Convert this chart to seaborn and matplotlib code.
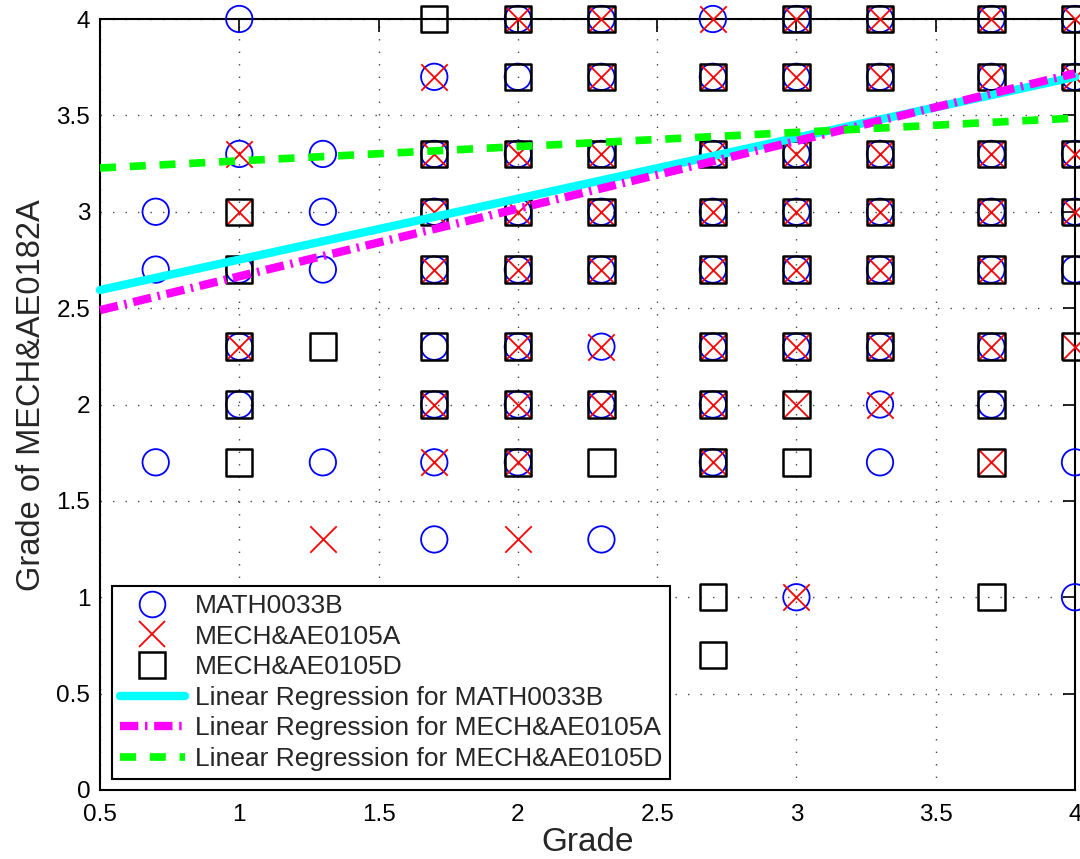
import numpy as np
import pandas as pd
import matplotlib
matplotlib.use("Agg")
import matplotlib.pyplot as plt
from matplotlib.lines import Line2D
import seaborn as sns

# ---------------- data ----------------
math_x = [0.7, 0.7, 0.7,
          1, 1, 1, 1, 1,
          1.3, 1.3, 1.3, 1.3,
          1.7, 1.7, 1.7, 1.7, 1.7, 1.7, 1.7, 1.7,
          2, 2, 2, 2, 2, 2, 2, 2,
          2.3, 2.3, 2.3, 2.3, 2.3, 2.3, 2.3, 2.3,
          2.7, 2.7, 2.7, 2.7, 2.7, 2.7, 2.7, 2.7,
          3, 3, 3, 3, 3, 3, 3,
          3.3, 3.3, 3.3, 3.3, 3.3, 3.3, 3.3, 3.3,
          3.7, 3.7, 3.7, 3.7, 3.7, 3.7, 3.7,
          4, 4, 4, 4, 4, 4, 4]
math_y = [3, 2.7, 1.7,
          4, 3.3, 2.7, 2.3, 2,
          3.3, 3, 2.7, 1.7,
          3.7, 3.3, 3, 2.7, 2.3, 2, 1.7, 1.3,
          4, 3.7, 3.3, 3, 2.7, 2.3, 2, 1.7,
          4, 3.7, 3.3, 3, 2.7, 2.3, 2, 1.3,
          4, 3.7, 3.3, 3, 2.7, 2.3, 2, 1.7,
          4, 3.7, 3.3, 3, 2.7, 2.3, 1,
          4, 3.7, 3.3, 3, 2.7, 2.3, 2, 1.7,
          4, 3.7, 3.3, 3, 2.7, 2.3, 2,
          4, 3.7, 3.3, 3, 2.7, 1.7, 1]

mecha_x = [1, 1, 1,
           1.3,
           1.7, 1.7, 1.7, 1.7, 1.7, 1.7,
           2, 2, 2, 2, 2, 2, 2, 2,
           2.3, 2.3, 2.3, 2.3, 2.3, 2.3, 2.3,
           2.7, 2.7, 2.7, 2.7, 2.7, 2.7, 2.7, 2.7,
           3, 3, 3, 3, 3, 3, 3, 3,
           3.3, 3.3, 3.3, 3.3, 3.3, 3.3, 3.3,
           3.7, 3.7, 3.7, 3.7, 3.7, 3.7, 3.7,
           4, 4, 4, 4, 4]
mecha_y = [3.3, 3, 2.3,
           1.3,
           3.7, 3.3, 3, 2.7, 2, 1.7,
           4, 3.3, 3, 2.7, 2.3, 2, 1.7, 1.3,
           4, 3.7, 3.3, 3, 2.7, 2.3, 2,
           4, 3.7, 3.3, 3, 2.7, 2.3, 2, 1.7,
           4, 3.7, 3.3, 3, 2.7, 2.3, 2, 1,
           4, 3.7, 3.3, 3, 2.7, 2.3, 2,
           4, 3.7, 3.3, 3, 2.7, 2.3, 1.7,
           4, 3.7, 3.3, 3, 2.3]

mechd_x = [1, 1, 1, 1, 1,
           1.3,
           1.7, 1.7, 1.7, 1.7, 1.7, 1.7,
           2, 2, 2, 2, 2, 2, 2, 2,
           2.3, 2.3, 2.3, 2.3, 2.3, 2.3, 2.3,
           2.7, 2.7, 2.7, 2.7, 2.7, 2.7, 2.7, 2.7, 2.7,
           3, 3, 3, 3, 3, 3, 3, 3,
           3.3, 3.3, 3.3, 3.3, 3.3, 3.3,
           3.7, 3.7, 3.7, 3.7, 3.7, 3.7, 3.7, 3.7, 3.7,
           4, 4, 4, 4, 4, 4]
mechd_y = [3, 2.7, 2.3, 2, 1.7,
           2.3,
           4, 3.3, 3, 2.7, 2.3, 2,
           4, 3.7, 3.3, 3, 2.7, 2.3, 2, 1.7,
           4, 3.7, 3.3, 3, 2.7, 2, 1.7,
           3.7, 3.3, 3, 2.7, 2.3, 2, 1.7, 1, 0.7,
           4, 3.7, 3.3, 3, 2.7, 2.3, 2, 1.7,
           4, 3.7, 3.3, 3, 2.7, 2.3,
           4, 3.7, 3.3, 3, 2.7, 2.3, 2, 1.7, 1,
           4, 3.7, 3.3, 3, 2.7, 2.3]

series_names = ["MATH0033B", "MECH&AE0105A", "MECH&AE0105D"]
reg_intercepts = [2.436, 2.314, 3.19]
reg_slopes = [0.316, 0.351, 0.074]
reg_x_range = [0.5, 4.0]

x_ticks = [0.5, 1, 1.5, 2, 2.5, 3, 3.5, 4]
y_ticks = [0, 0.5, 1, 1.5, 2, 2.5, 3, 3.5, 4]

# ---------------- plot ----------------
sns.set_style("white")
plt.rcParams["font.family"] = ["Liberation Sans", "DejaVu Sans"]

fig = plt.figure(figsize=(10.8, 8.59), dpi=100)
ax = fig.add_axes([100 / 1080, 1 - 790 / 859, 975 / 1080, 771 / 859])

ms = 19.0
s_area = ms ** 2

df_m = pd.DataFrame({"x": math_x, "y": math_y})
df_a = pd.DataFrame({"x": mecha_x, "y": mecha_y})
df_d = pd.DataFrame({"x": mechd_x, "y": mechd_y})

sns.scatterplot(data=df_m, x="x", y="y", ax=ax, marker="o", s=s_area,
                color="blue", facecolors="none", edgecolor="blue",
                linewidth=1.3, clip_on=False, zorder=3, legend=False)
sns.scatterplot(data=df_a, x="x", y="y", ax=ax, marker="x", s=s_area,
                color="red", linewidth=1.3, clip_on=False, zorder=4,
                legend=False)
sns.scatterplot(data=df_d, x="x", y="y", ax=ax, marker="s", s=s_area,
                color="black", facecolors="none", edgecolor="black",
                linewidth=1.8, clip_on=False, zorder=5, legend=False)

line_colors = ["cyan", "magenta", (0.0, 1.0, 0.0)]
line_styles = ["-", (0, (2.2, 0.8, 0.3, 0.8)), (0, (2.1, 1.8))]
line_widths = [6.0, 6.0, 5.5]
xr = np.array(reg_x_range)
for b0, b1, c, ls, lw in zip(reg_intercepts, reg_slopes, line_colors,
                             line_styles, line_widths):
    ax.plot(xr, b0 + b1 * xr, color=c, linestyle=ls, linewidth=lw,
            zorder=6, clip_on=False)

ax.set_xlim(0.5, 4)
ax.set_ylim(0, 4)
ax.set_xticks(x_ticks)
ax.set_yticks(y_ticks)
ax.set_xticklabels([f"{t:g}" for t in x_ticks])
ax.set_yticklabels([f"{t:g}" for t in y_ticks])

ax.grid(True, color="#444444", linestyle=(0, (1, 8)), linewidth=1.0, zorder=0)
ax.set_axisbelow(True)

for sp in ax.spines.values():
    sp.set_visible(True)
    sp.set_color("black")
    sp.set_linewidth(1.5)

ax.tick_params(axis="both", which="both", direction="in", length=9, width=1.2,
               top=True, right=True, labelsize=17.5, colors="black")
ax.tick_params(axis="y", pad=7)
ax.tick_params(axis="x", pad=10)

ax.set_xlabel("Grade", fontsize=24)
ax.xaxis.set_label_coords(0.5, -0.048)
ax.set_ylabel("Grade of MECH&AE0182A", fontsize=23.5)
ax.yaxis.set_label_coords(-0.054, 0.512)

handles = [
    Line2D([], [], linestyle="none", marker="o", markersize=18.5,
           markerfacecolor="none", markeredgecolor="blue", markeredgewidth=1.3),
    Line2D([], [], linestyle="none", marker="x", markersize=18.5,
           color="red", markeredgewidth=1.3),
    Line2D([], [], linestyle="none", marker="s", markersize=18.5,
           markerfacecolor="none", markeredgecolor="black", markeredgewidth=1.8),
    Line2D([], [], color=line_colors[0], linestyle=line_styles[0], linewidth=line_widths[0]),
    Line2D([], [], color=line_colors[1], linestyle=line_styles[1], linewidth=line_widths[1]),
    Line2D([], [], color=line_colors[2], linestyle=line_styles[2], linewidth=line_widths[2]),
]
labels = series_names + ["Linear Regression for " + n for n in series_names]
leg = ax.legend(handles, labels, loc="lower left",
                bbox_to_anchor=(12 / 975, 11 / 771), borderaxespad=0,
                fontsize=19, frameon=True, fancybox=False, framealpha=1,
                edgecolor="black", handlelength=2.45, handletextpad=0.38,
                labelspacing=0.25, borderpad=0.3)
leg.get_frame().set_linewidth(1.5)
leg.set_zorder(10)

fig.savefig("out.png", dpi=100)
